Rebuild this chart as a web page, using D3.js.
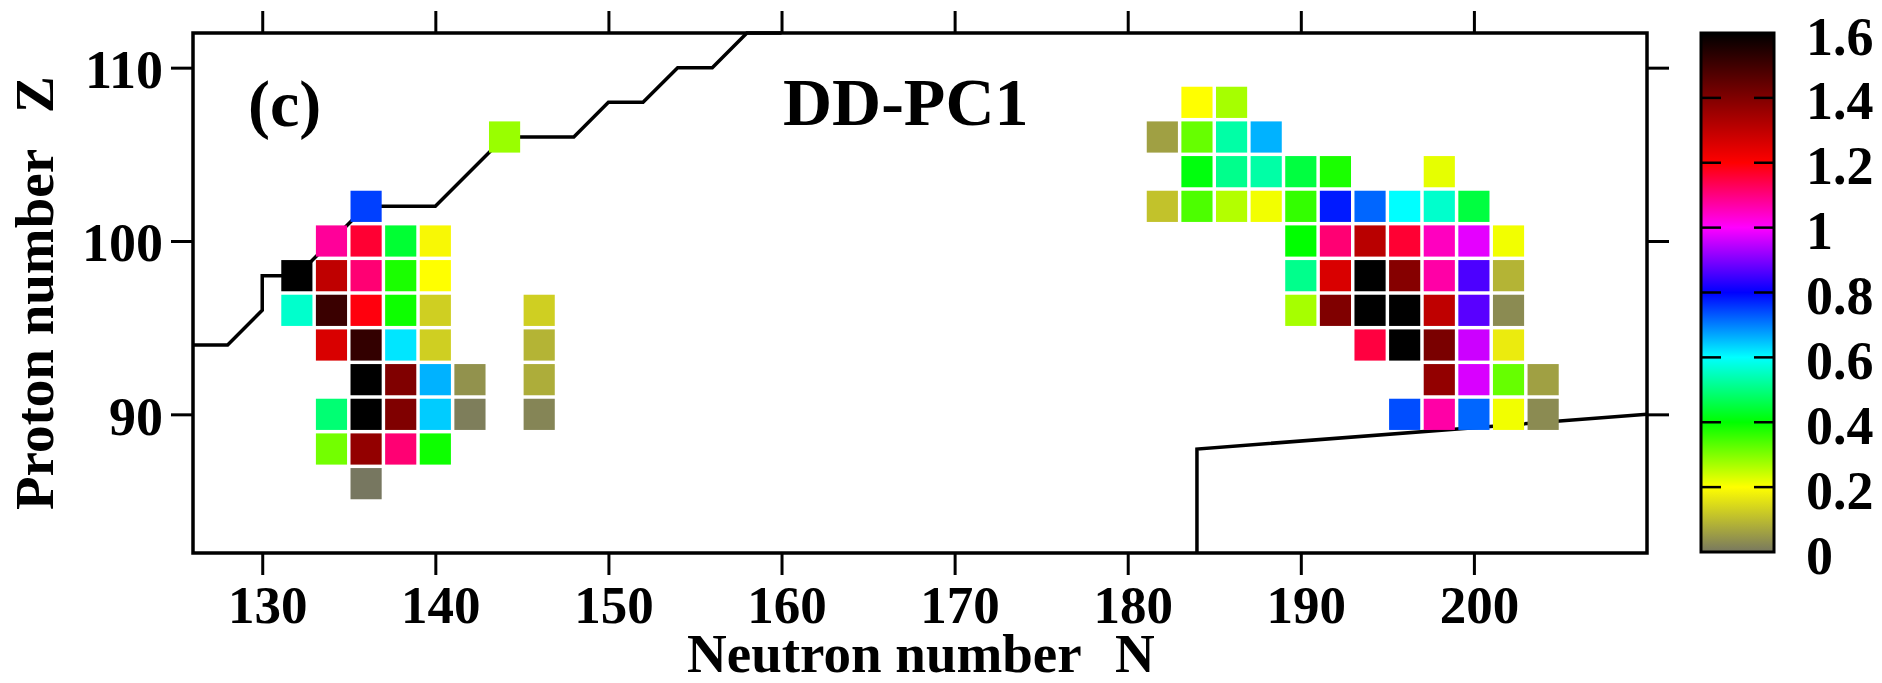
<!DOCTYPE html>
<html>
<head>
<meta charset="utf-8">
<script src="https://cdn.jsdelivr.net/npm/d3@7"></script>
<style>
  body { margin: 0; background: #fff; }
  text { font-family: "Liberation Serif", "Times New Roman", serif; font-weight: bold; fill: #000; }
</style>
</head>
<body>
<svg id="chart"></svg>
<script>
// nuclei: neutron number, proton number, value (colour)
var cellN = [
  144,
  136,
  134, 136, 138, 140,
  132, 134, 136, 138, 140,
  132, 134, 136, 138, 140, 146,
  134, 136, 138, 140, 146,
  136, 138, 140, 142, 146,
  134, 136, 138, 140, 142, 146,
  134, 136, 138, 140,
  136,
  184, 186,
  182, 184, 186, 188,
  184, 186, 188, 190, 192, 198,
  182, 184, 186, 188, 190, 192, 194, 196, 198, 200,
  190, 192, 194, 196, 198, 200, 202,
  190, 192, 194, 196, 198, 200, 202,
  190, 192, 194, 196, 198, 200, 202,
  194, 196, 198, 200, 202,
  198, 200, 202, 204,
  196, 198, 200, 202, 204
];
var cellZ = [
  106,
  102,
  100, 100, 100, 100,
  98, 98, 98, 98, 98,
  96, 96, 96, 96, 96, 96,
  94, 94, 94, 94, 94,
  92, 92, 92, 92, 92,
  90, 90, 90, 90, 90, 90,
  88, 88, 88, 88,
  86,
  108, 108,
  106, 106, 106, 106,
  104, 104, 104, 104, 104, 104,
  102, 102, 102, 102, 102, 102, 102, 102, 102, 102,
  100, 100, 100, 100, 100, 100, 100,
  98, 98, 98, 98, 98, 98, 98,
  96, 96, 96, 96, 96, 96, 96,
  94, 94, 94, 94, 94,
  92, 92, 92, 92,
  90, 90, 90, 90, 90
];
var cellValue = [
  0.28,
  0.75,
  1.08, 1.16, 0.44, 0.19,
  1.6, 1.30, 1.11, 0.38, 0.2,
  0.56, 1.51, 1.19, 0.39, 0.13, 0.13,
  1.26, 1.52, 0.62, 0.13, 0.09,
  1.6, 1.4, 0.66, 0.04, 0.08,
  0.49, 1.6, 1.4, 0.64, 0.01, 0.02,
  0.31, 1.37, 1.11, 0.39,
  0.0,
  0.2, 0.27,
  0.06, 0.32, 0.53, 0.66,
  0.41, 0.51, 0.53, 0.45, 0.38, 0.22,
  0.11, 0.34, 0.26, 0.21, 0.36, 0.78, 0.72, 0.6, 0.56, 0.45,
  0.4, 1.11, 1.31, 1.16, 1.05, 0.98, 0.21,
  0.51, 1.26, 1.6, 1.39, 1.07, 0.86, 0.09,
  0.27, 1.4, 1.6, 1.6, 1.3, 0.87, 0.03,
  1.15, 1.6, 1.41, 0.96, 0.17,
  1.37, 0.97, 0.32, 0.06,
  0.74, 1.07, 0.72, 0.21, 0.03
];

// boundary lines
var upperLineN = [126, 128, 130, 130, 132, 134, 136, 140, 144, 148, 150, 152, 154, 156, 158, 160];
var upperLineZ = [94, 94, 96, 98, 98, 100, 102, 102, 106, 106, 108, 108, 110, 110, 112, 112];
var lowerLineN = [184, 184, 210];
var lowerLineZ = [82, 88, 90];

var xTicks = [130, 140, 150, 160, 170, 180, 190, 200];
var yTicks = [90, 100, 110];
var colorTicks = [0, 0.2, 0.4, 0.6, 0.8, 1, 1.2, 1.4, 1.6];
var colorStops = ["#777760", "#ffff00", "#00ff00", "#00ffff", "#0000ff", "#ff00ff", "#ff0000", "#800000", "#000000"];

function draw(){
  var width = 1882, height = 683;
  var pLeft = 193, pRight = 1647, pTop = 33, pBottom = 553;

  var svg = d3.select("#chart").attr("width", width).attr("height", height);
  svg.append("rect").attr("width", width).attr("height", height).attr("fill", "#fff");

  var x = d3.scaleLinear().domain([126, 210]).range([pLeft, pRight]);
  var y = d3.scaleLinear().domain([82, 112]).range([pBottom, pTop]);
  var color = d3.scaleLinear().domain(colorTicks).range(colorStops).interpolate(d3.interpolateRgb);

  // lines go under the squares
  var line = d3.line().x(function(d){ return x(d[0]); }).y(function(d){ return y(d[1]); });
  [[upperLineN, upperLineZ], [lowerLineN, lowerLineZ]].forEach(function(l){
    svg.append("path")
      .attr("d", line(d3.zip(l[0], l[1])))
      .attr("fill", "none")
      .attr("stroke", "#000")
      .attr("stroke-width", 3.5);
  });

  var cells = d3.range(cellN.length).map(function(i){
    return {n: cellN[i], z: cellZ[i], v: cellValue[i]};
  });
  var half = 0.9;
  svg.selectAll("rect.cell").data(cells)
    .enter().append("rect")
    .attr("class", "cell")
    .attr("x", function(d){ return x(d.n - half); })
    .attr("y", function(d){ return y(d.z + half); })
    .attr("width", function(d){ return x(d.n + half) - x(d.n - half); })
    .attr("height", function(d){ return y(d.z - half) - y(d.z + half); })
    .attr("fill", function(d){ return color(d.v); });

  // axes, ticks outside on all four sides
  function styleAxis(g, fontSize){
    g.select(".domain").remove();
    g.selectAll(".tick line").attr("stroke", "#000").attr("stroke-width", 3);
    g.selectAll(".tick text").attr("fill", "#000").style("font-size", fontSize + "px");
  }
  svg.append("g").attr("transform", "translate(0," + pBottom + ")")
    .call(d3.axisBottom(x).tickValues(xTicks).tickSize(22).tickPadding(10))
    .call(styleAxis, 53)
    .selectAll(".tick text").attr("dx", 5);
  svg.append("g").attr("transform", "translate(0," + pTop + ")")
    .call(d3.axisTop(x).tickValues(xTicks).tickSize(22).tickFormat(""))
    .call(styleAxis, 53);
  svg.append("g").attr("transform", "translate(" + pLeft + ",0)")
    .call(d3.axisLeft(y).tickValues(yTicks).tickSize(22).tickPadding(8))
    .call(styleAxis, 54)
    .selectAll(".tick text").attr("dy", "0.37em");
  svg.append("g").attr("transform", "translate(" + pRight + ",0)")
    .call(d3.axisRight(y).tickValues(yTicks).tickSize(22).tickFormat(""))
    .call(styleAxis, 54);

  svg.append("rect")
    .attr("x", pLeft).attr("y", pTop)
    .attr("width", pRight - pLeft).attr("height", pBottom - pTop)
    .attr("fill", "none").attr("stroke", "#000").attr("stroke-width", 3.5);

  // panel labels
  svg.append("text").attr("x", 248).attr("y", 126).style("font-size", "66px").text("(c)");
  svg.append("text").attr("x", 783).attr("y", 125).style("font-size", "68px").text("DD-PC1");

  // axis titles
  var xt = svg.append("text").attr("x", 687).attr("y", 672).style("font-size", "55px");
  xt.append("tspan").text("Neutron number");
  xt.append("tspan").attr("x", 1115).text("N");

  var yt = svg.append("text").attr("transform", "translate(53,510) rotate(-90)").style("font-size", "55px");
  yt.append("tspan").attr("x", 0).text("Proton number");
  yt.append("tspan").attr("x", 397).text("Z");

  // colour bar
  var cbX = 1701, cbW = 73, cbTop = 33, cbBottom = 552;
  var cy = d3.scaleLinear().domain([0, 1.6]).range([cbBottom, cbTop]);
  var grad = svg.append("defs").append("linearGradient")
    .attr("id", "cbar").attr("x1", 0).attr("y1", 1).attr("x2", 0).attr("y2", 0);
  grad.selectAll("stop").data(colorTicks).enter().append("stop")
    .attr("offset", function(d){ return d / 1.6; })
    .attr("stop-color", function(d){ return color(d); });
  svg.append("rect")
    .attr("x", cbX).attr("y", cbTop).attr("width", cbW).attr("height", cbBottom - cbTop)
    .attr("fill", "url(#cbar)").attr("stroke", "#000").attr("stroke-width", 3);

  var inner = colorTicks.filter(function(d){ return d > 0 && d < 1.6; });
  svg.selectAll("line.cbl").data(inner).enter().append("line")
    .attr("x1", cbX).attr("x2", cbX + 20)
    .attr("y1", function(d){ return cy(d); }).attr("y2", function(d){ return cy(d); })
    .attr("stroke", "#000").attr("stroke-width", 2.5);
  svg.selectAll("line.cbr").data(inner).enter().append("line")
    .attr("x1", cbX + cbW - 20).attr("x2", cbX + cbW)
    .attr("y1", function(d){ return cy(d); }).attr("y2", function(d){ return cy(d); })
    .attr("stroke", "#000").attr("stroke-width", 2.5);

  svg.append("g").attr("transform", "translate(" + (cbX + cbW) + ",0)")
    .call(d3.axisRight(cy).tickValues(colorTicks).tickSize(0).tickPadding(32).tickFormat(function(d){ return String(d); }))
    .call(styleAxis, 54)
    .selectAll(".tick text").attr("dy", "0.39em");
}
draw();
</script>
</body>
</html>
